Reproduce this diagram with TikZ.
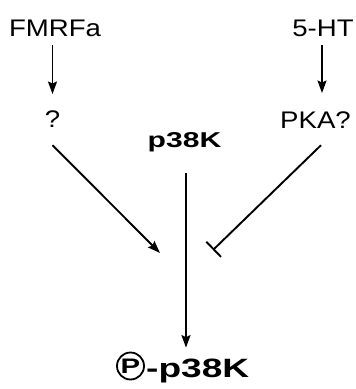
\documentclass[tikz,border=0pt]{standalone}
\usepackage{fontspec}
\setmainfont{Liberation Sans}[FakeStretch=1.15]
\newfontfamily\wideb{Liberation Sans}[FakeStretch=1.4]
\usetikzlibrary{arrows.meta}
\tikzset{
  lbl/.style={inner sep=0pt, anchor=base, font=\fontsize{24}{28}\selectfont},
  blbl/.style={inner sep=0pt, anchor=base, font=\wideb\bfseries\fontsize{21.5}{26}\selectfont},
  link/.style={line width=1.9pt},
  arr/.style={link, -{Stealth[length=12.5pt,width=9pt,inset=2pt]}},
  inh/.style={link, -{Bar[width=21pt]}},
}
\begin{document}
\begin{tikzpicture}[x=1pt,y=-1pt]
\useasboundingbox (0,0) rectangle (356,389);
\fill[white] (0,0) rectangle (356,389);
\node[lbl] (fm) at (55,36) {FMRFa};
\node[lbl] (ht) at (323,36) {5-HT};
\node[lbl] (q) at (52.5,127) {?};
\node[lbl] (pka) at (315.5,128) {PKA?};
\node[blbl] (pk) at (184.5,147) {p38K};
\node[draw, circle, line width=1.8pt, minimum size=27pt, inner sep=0pt,
      font=\wideb\bfseries\fontsize{21}{24}\selectfont] (cp) at (130.5,366) {P};
\node[inner sep=0pt, anchor=base west, font=\wideb\bfseries\fontsize{26.5}{30}\selectfont] (pp) at (146,377) {-p38K};
\coordinate (ja) at (160,253);
\coordinate (jb) at (213,250);
\draw[arr, shorten <=9pt, shorten >=16pt] (fm.south -| q.north) -- (q.north);
\draw[arr, shorten <=9pt, shorten >=18pt] (ht.south -| 322,0) -- (pka.north -| 322,0);
\draw[arr] ([yshift=-18pt]q.south) -- (ja);
\draw[inh] ([xshift=5.5pt,yshift=-17pt]pka.south) -- (jb);
\draw[arr, shorten <=26pt, shorten >=4pt] (pk.base -| 186,0) -- (cp.north -| 186,0);
\end{tikzpicture}
\end{document}
